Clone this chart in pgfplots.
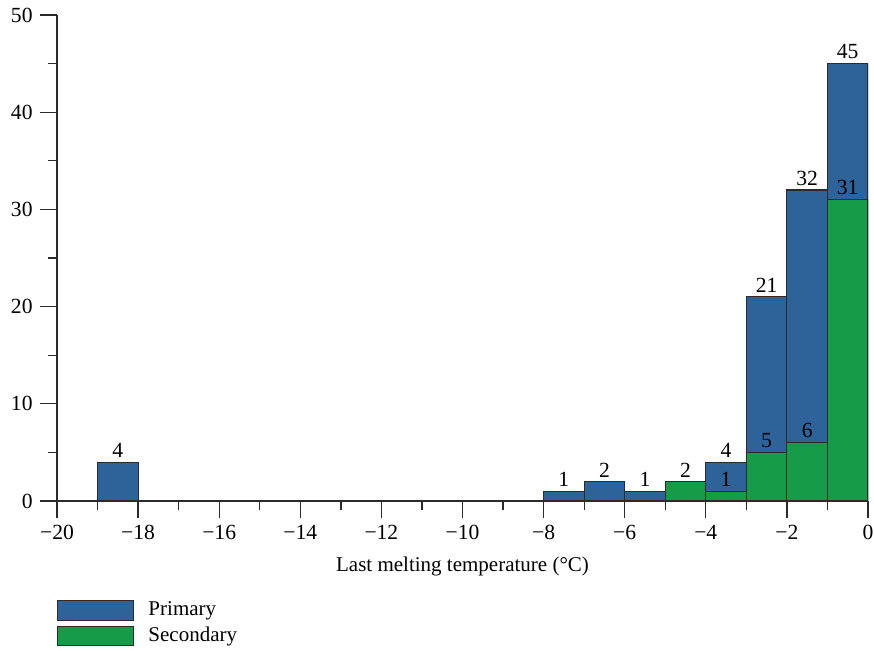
\documentclass[border=0pt]{standalone}
\usepackage{fontspec}
\setmainfont{Liberation Serif}
\usepackage{pgfplots}
\pgfplotsset{compat=1.18}
\definecolor{pblue}{HTML}{2E6399}
\definecolor{sgreen}{HTML}{169C48}
\definecolor{edge}{HTML}{2B2B2B}
\begin{document}
\fontsize{10.5}{12.6}\selectfont
\begin{tikzpicture}
\begin{axis}[
  scale only axis, width=405.5pt, height=243pt,
  xmin=-20, xmax=0, ymin=0, ymax=50,
  axis lines=left, axis line style={-, line width=0.65pt, color=edge},
  tick align=outside, tick style={line width=0.65pt, color=edge},
  major tick length=8.5pt, minor tick length=4.5pt,
  xtick={-20,-18,...,0}, minor x tick num=1,
  xticklabels={−20,−18,−16,−14,−12,−10,−8,−6,−4,−2,0},
  ytick={0,10,...,50}, minor y tick num=1,
  /pgf/number format/assume math mode=true,
  tick label style={font=\fontsize{10.8}{12.6}\selectfont},
  xlabel={Last melting temperature (°C)},
  xlabel style={yshift=-1.5pt},
  label style={font=\fontsize{10.5}{12.6}\selectfont},
  ybar, bar width=1, bar shift=0pt,
  nodes near coords,
  every node near coord/.append style={font=\fontsize{10.8}{12.6}\selectfont, inner sep=2pt},
  legend style={at={(axis description cs:0,-0.203)}, anchor=north west, draw=none, fill=none,
    inner sep=0pt, font=\fontsize{10.5}{12.6}\selectfont, nodes={inner sep=1pt}, row sep=2pt, column sep=6pt},
  legend cell align=left,
  legend image code/.code={\draw[#1] (0pt,-4.9pt) rectangle (38pt,4.9pt);},
]
\coordinate (O) at (rel axis cs:0,0);
\addplot[fill=pblue, draw=edge, line width=0.55pt, point meta=explicit symbolic] coordinates {
 (-18.5,4) [4] (-7.5,1) [1] (-6.5,2) [2] (-5.5,1) [1] (-4.5,1) [] (-3.5,4) [4] (-2.5,21) [21] (-1.5,32) [32] (-0.5,45) [45]};
\addlegendentry{Primary}
\addplot[fill=sgreen, draw=edge, line width=0.55pt] coordinates {
 (-4.5,2) (-3.5,1) (-2.5,5) (-1.5,6) (-0.5,31)};
\addlegendentry{Secondary}
\end{axis}
\pgfresetboundingbox
\path[use as bounding box] (O) ++(-28.5pt,250.5pt) rectangle ++(437pt,-325pt);
\end{tikzpicture}
\end{document}
